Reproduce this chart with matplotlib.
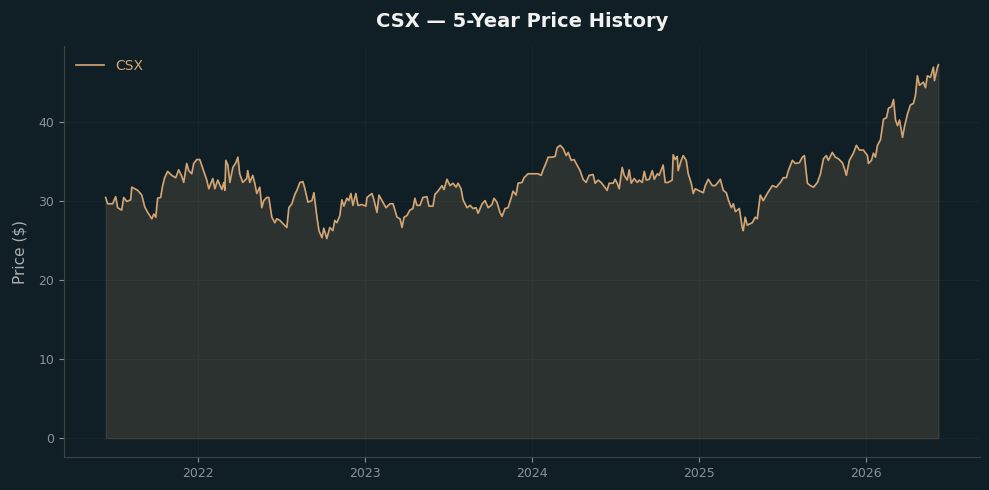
import numpy as np
import pandas as pd
import matplotlib
matplotlib.use('Agg')
import matplotlib.pyplot as plt
import matplotlib.dates as mdates

# Datas em anos decimais e preço de fechamento
anos = [
    2021.449, 2021.461, 2021.491, 2021.509, 2021.521, 2021.545, 2021.557, 2021.575, 2021.599, 2021.605,
    2021.641, 2021.665, 2021.683, 2021.701, 2021.725, 2021.737, 2021.749, 2021.760, 2021.778, 2021.790,
    2021.802, 2021.820, 2021.844, 2021.868, 2021.886, 2021.904, 2021.916, 2021.934, 2021.946, 2021.964,
    2021.976, 2021.994, 2022.012, 2022.030, 2022.054, 2022.066, 2022.090, 2022.102, 2022.120, 2022.144,
    2022.156, 2022.162, 2022.168, 2022.180, 2022.192, 2022.210, 2022.228, 2022.240, 2022.251, 2022.269,
    2022.293, 2022.299, 2022.311, 2022.329, 2022.341, 2022.353, 2022.371, 2022.383, 2022.395, 2022.413,
    2022.425, 2022.443, 2022.461, 2022.473, 2022.491, 2022.509, 2022.533, 2022.545, 2022.563, 2022.581,
    2022.593, 2022.611, 2022.629, 2022.641, 2022.659, 2022.683, 2022.695, 2022.713, 2022.725, 2022.743,
    2022.754, 2022.772, 2022.790, 2022.808, 2022.820, 2022.832, 2022.850, 2022.862, 2022.874, 2022.892,
    2022.904, 2022.916, 2022.928, 2022.946, 2022.958, 2022.982, 2023.006, 2023.012, 2023.042, 2023.054,
    2023.072, 2023.084, 2023.108, 2023.126, 2023.150, 2023.168, 2023.192, 2023.210, 2023.222, 2023.234,
    2023.251, 2023.269, 2023.287, 2023.299, 2023.311, 2023.329, 2023.347, 2023.371, 2023.383, 2023.407,
    2023.419, 2023.437, 2023.461, 2023.473, 2023.491, 2023.509, 2023.527, 2023.545, 2023.557, 2023.575,
    2023.587, 2023.611, 2023.629, 2023.647, 2023.665, 2023.677, 2023.701, 2023.719, 2023.737, 2023.760,
    2023.772, 2023.790, 2023.808, 2023.820, 2023.838, 2023.856, 2023.874, 2023.886, 2023.904, 2023.916,
    2023.940, 2023.952, 2023.976, 2024.006, 2024.036, 2024.054, 2024.066, 2024.084, 2024.096, 2024.120,
    2024.138, 2024.150, 2024.168, 2024.186, 2024.204, 2024.216, 2024.234, 2024.251, 2024.269, 2024.287,
    2024.305, 2024.323, 2024.341, 2024.365, 2024.377, 2024.395, 2024.413, 2024.431, 2024.449, 2024.461,
    2024.485, 2024.497, 2024.509, 2024.521, 2024.539, 2024.551, 2024.569, 2024.581, 2024.593, 2024.611,
    2024.629, 2024.641, 2024.659, 2024.671, 2024.683, 2024.701, 2024.719, 2024.731, 2024.749, 2024.760,
    2024.784, 2024.796, 2024.814, 2024.838, 2024.844, 2024.856, 2024.868, 2024.874, 2024.892, 2024.904,
    2024.922, 2024.934, 2024.952, 2024.964, 2024.976, 2024.994, 2025.024, 2025.036, 2025.054, 2025.078,
    2025.096, 2025.108, 2025.126, 2025.144, 2025.162, 2025.174, 2025.192, 2025.204, 2025.216, 2025.240,
    2025.257, 2025.263, 2025.275, 2025.287, 2025.317, 2025.335, 2025.347, 2025.365, 2025.383, 2025.407,
    2025.437, 2025.461, 2025.485, 2025.503, 2025.521, 2025.533, 2025.557, 2025.575, 2025.599, 2025.617,
    2025.629, 2025.647, 2025.665, 2025.683, 2025.707, 2025.725, 2025.743, 2025.760, 2025.772, 2025.796,
    2025.814, 2025.832, 2025.856, 2025.868, 2025.880, 2025.898, 2025.922, 2025.940, 2025.958, 2025.982,
    2026.006, 2026.012, 2026.030, 2026.042, 2026.054, 2026.066, 2026.084, 2026.102, 2026.120, 2026.132,
    2026.150, 2026.162, 2026.174, 2026.186, 2026.198, 2026.216, 2026.228, 2026.246, 2026.263, 2026.281,
    2026.293, 2026.305, 2026.317, 2026.341, 2026.353, 2026.365, 2026.383, 2026.401, 2026.407, 2026.425,
    2026.431,
]
precos = [
    30.5, 29.7, 29.7, 30.6, 29.2, 28.9, 30.5, 30.0, 30.2, 31.8,
    31.4, 30.8, 29.3, 28.6, 27.8, 28.4, 28.0, 30.4, 30.5, 32.0,
    33.0, 33.8, 33.3, 33.0, 34.0, 33.2, 32.4, 34.8, 33.9, 33.5,
    34.8, 35.3, 35.3, 34.2, 32.7, 31.6, 32.9, 31.6, 32.7, 31.5,
    32.4, 31.4, 35.2, 34.6, 32.4, 34.3, 34.9, 35.6, 33.5, 32.4,
    32.9, 33.9, 32.4, 33.3, 32.3, 31.0, 31.8, 29.2, 30.1, 30.5,
    30.5, 28.0, 27.3, 27.8, 27.6, 27.2, 26.7, 29.2, 29.7, 30.9,
    31.4, 32.4, 32.5, 31.6, 29.9, 30.1, 31.1, 28.0, 26.3, 25.4,
    26.6, 25.3, 26.7, 26.3, 27.6, 27.3, 28.2, 30.2, 29.4, 30.4,
    30.1, 31.0, 29.5, 31.0, 29.5, 29.6, 29.4, 30.5, 31.0, 30.2,
    28.6, 30.8, 29.9, 29.2, 29.7, 29.7, 28.0, 27.8, 26.7, 28.0,
    28.2, 28.9, 29.1, 30.4, 29.5, 29.5, 30.5, 30.6, 29.4, 29.4,
    30.9, 31.3, 32.0, 31.5, 32.8, 32.0, 32.3, 31.8, 32.3, 31.6,
    30.2, 29.2, 29.5, 29.1, 29.2, 28.5, 29.7, 30.1, 29.2, 29.6,
    30.4, 29.9, 28.6, 28.1, 29.1, 29.2, 30.4, 31.3, 30.8, 32.3,
    32.4, 33.0, 33.5, 33.5, 33.5, 33.3, 34.0, 34.9, 35.6, 35.6,
    35.7, 36.8, 37.1, 36.7, 35.8, 36.2, 35.2, 35.3, 34.6, 33.9,
    32.8, 32.4, 33.3, 33.4, 32.3, 32.7, 32.4, 31.9, 31.4, 32.3,
    32.3, 32.8, 32.3, 31.6, 34.3, 33.3, 32.7, 34.0, 32.3, 32.9,
    32.4, 32.7, 32.4, 33.8, 32.7, 32.8, 33.9, 32.8, 33.5, 33.3,
    34.6, 32.4, 32.4, 32.7, 35.9, 35.3, 35.7, 33.9, 35.2, 35.8,
    35.2, 33.5, 32.3, 31.0, 31.6, 31.4, 31.1, 32.0, 32.8, 32.0,
    32.0, 32.3, 32.8, 31.4, 31.1, 30.2, 29.2, 29.7, 28.7, 29.1,
    26.7, 26.3, 28.0, 27.0, 27.3, 28.0, 27.8, 30.8, 30.1, 31.0,
    32.0, 31.8, 32.4, 33.0, 33.0, 33.9, 35.2, 34.8, 34.9, 35.6,
    35.8, 32.3, 32.0, 31.8, 32.4, 33.5, 35.4, 35.8, 35.2, 36.2,
    35.6, 35.4, 34.9, 34.2, 33.3, 35.2, 36.1, 37.1, 36.5, 36.5,
    35.8, 34.8, 35.2, 36.1, 35.6, 37.1, 37.8, 40.4, 40.6, 41.8,
    42.0, 42.9, 40.3, 39.6, 40.3, 38.1, 39.5, 41.1, 42.2, 42.4,
    43.4, 45.9, 44.7, 45.1, 44.4, 45.9, 45.7, 47.0, 45.3, 47.0,
    47.3,
]
ticker = 'CSX'

# Cores
fundo = '#0f1f25'
cor_linha = '#d4a574'
cor_texto = '#8a9296'

anos = np.array(anos)
datas = pd.to_datetime('2021-01-01') + pd.to_timedelta((anos - 2021) * 365.25, unit='D')

fig = plt.figure(figsize=(9.89, 4.9), dpi=100, facecolor=fundo)
ax = fig.add_axes([0.0647, 0.0673, 0.9263, 0.8387])
ax.set_facecolor(fundo)

ax.plot(datas, precos, color=cor_linha, lw=1.2, label=ticker)
ax.fill_between(datas, precos, 0, color=cor_linha, alpha=0.15, lw=0.8)

ax.grid(True, color='#16252b', lw=0.8)
ax.set_axisbelow(True)

ax.xaxis.set_major_locator(mdates.YearLocator())
ax.xaxis.set_major_formatter(mdates.DateFormatter('%Y'))

for lado in ['top', 'right']:
    ax.spines[lado].set_visible(False)
for lado in ['left', 'bottom']:
    ax.spines[lado].set_color('#3d4445')

ax.tick_params(colors=cor_texto, labelsize=9)
ax.set_ylabel('Price ($)', color='#a9b0b3', fontsize=11, labelpad=8)

ax.set_title('CSX — 5-Year Price History', color='#f2f2f2', fontsize=14,
             fontweight='bold', pad=14)

leg = ax.legend(loc='upper left', frameon=False, fontsize=10)
for t in leg.get_texts():
    t.set_color(cor_linha)

fig.savefig('out.png', dpi=100, facecolor=fundo)
